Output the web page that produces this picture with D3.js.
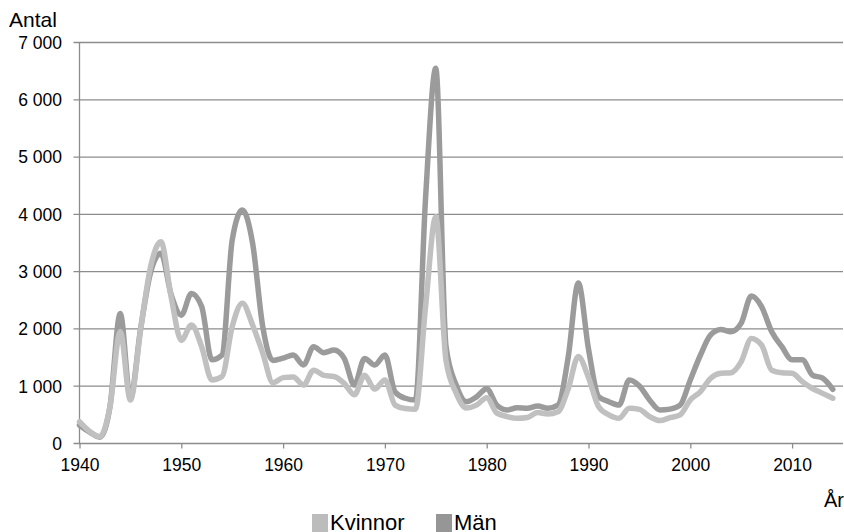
<!DOCTYPE html>
<html lang="sv">
  <head>
    <meta charset="UTF-8" />
    <title>Antal per år</title>
    <style>
      * {
        margin: 0;
        padding: 0;
      }
      body {
        background: #fff;
      }
      text {
        font-family: Arial, 'Liberation Sans', sans-serif;
        fill: #000;
      }
    </style>
  </head>
  <body>
    <script src="https://cdn.jsdelivr.net/npm/d3@7"></script>
    <script>
      const years = d3.range(1940, 2015)
      const kvinnor = [
        380, 210, 120, 650, 1950, 760, 1980, 3100, 3520, 2560,
        1800, 2070, 1690, 1110, 1170, 2040, 2450, 2070, 1580, 1060,
        1150, 1160, 1020, 1280, 1190, 1170, 1050, 850, 1190, 950,
        1110, 670, 610, 600, 2400, 3960, 1450, 880, 620, 670,
        800, 530, 470, 440, 455, 540, 515, 555, 950, 1520,
        1150, 640, 500, 440, 615, 595, 470, 400, 450, 500,
        760, 905, 1140, 1225, 1235, 1430, 1835, 1720, 1280, 1235,
        1225, 1080, 960, 875, 790
      ]
      const man = [
        320, 200, 110, 650, 2270, 800, 2000, 3000, 3320, 2600,
        2240, 2620, 2390, 1460, 1545, 3550, 4075, 3500, 2040, 1450,
        1490, 1545, 1370, 1690, 1585, 1630, 1485, 1020, 1485, 1370,
        1545, 900, 790, 760, 4300, 6550, 1700, 1020, 730, 815,
        955, 670, 585, 625, 615, 655, 615, 670, 1500, 2800,
        1650, 815, 730, 670, 1110, 1005, 760, 585, 600, 670,
        1110, 1545, 1895, 1990, 1950, 2100, 2575, 2390, 1950, 1690,
        1460, 1460, 1195, 1140, 945
      ]
      const xTicks = [1940, 1950, 1960, 1970, 1980, 1990, 2000, 2010]
      const yTicks = [0, 1000, 2000, 3000, 4000, 5000, 6000, 7000]
      const series = [
        { name: 'Män', values: man, color: '#9b9b9b', legend: '#969696' },
        { name: 'Kvinnor', values: kvinnor, color: '#c0c0c0', legend: '#bcbcbc' }
      ]
      const legendOrder = ['Kvinnor', 'Män']

      const W = 844
      const H = 532
      const plotLeft = 79.5
      const plotRight = 843
      const plotTop = 42.5
      const plotBottom = 443.5

      const svg = d3
        .select('body')
        .append('svg')
        .attr('width', W)
        .attr('height', H)

      const x = d3.scaleLinear().domain([1940, 2015]).range([plotLeft, plotRight])
      const y = d3.scaleLinear().domain([0, 7000]).range([plotBottom, plotTop])

      // rutnät
      svg
        .append('g')
        .selectAll('line')
        .data(yTicks)
        .join('line')
        .attr('x1', plotLeft - 6)
        .attr('x2', plotRight)
        .attr('y1', (d) => y(d))
        .attr('y2', (d) => y(d))
        .attr('stroke', '#8c8c8c')
        .attr('stroke-width', 1.3)

      // y-axel
      svg
        .append('line')
        .attr('x1', plotLeft)
        .attr('x2', plotLeft)
        .attr('y1', plotTop)
        .attr('y2', plotBottom)
        .attr('stroke', '#8c8c8c')
        .attr('stroke-width', 1.3)

      const fmt = (d) => d3.format(',')(d).replace(/,/g, ' ')
      svg
        .append('g')
        .selectAll('text')
        .data(yTicks)
        .join('text')
        .attr('x', 62)
        .attr('y', (d) => y(d))
        .attr('dy', '0.36em')
        .attr('text-anchor', 'end')
        .attr('font-size', 17.5)
        .text(fmt)

      // x-axel, tickmarkeringar
      const xAxis = d3
        .axisBottom(x)
        .tickValues(xTicks)
        .tickFormat(d3.format('d'))
        .tickSize(5)
        .tickPadding(10)
      const gx = svg
        .append('g')
        .attr('transform', `translate(0,${plotBottom})`)
        .call(xAxis)
      gx.select('.domain').remove()
      gx.selectAll('line').attr('stroke', '#8c8c8c').attr('stroke-width', 1.3)
      gx.selectAll('text')
        .attr('font-size', 17.5)
        .attr('font-family', 'Arial, Liberation Sans, sans-serif')
        .attr('fill', '#000')

      // utjämnade linjer
      const line = d3
        .line()
        .x((d, i) => x(years[i]))
        .y((d) => y(d))
        .curve(d3.curveMonotoneX)

      svg
        .append('g')
        .selectAll('path')
        .data(series)
        .join('path')
        .attr('d', (s) => line(s.values))
        .attr('fill', 'none')
        .attr('stroke', (s) => s.color)
        .attr('stroke-width', 5.5)
        .attr('stroke-linejoin', 'round')
        .attr('stroke-linecap', 'round')

      // axeltitlar
      svg.append('text').attr('x', 9).attr('y', 26.5).attr('font-size', 21).text('Antal')
      svg
        .append('text')
        .attr('x', 844)
        .attr('y', 507)
        .attr('text-anchor', 'end')
        .attr('font-size', 20)
        .text('År')

      // förklaring
      const legendX = [312, 436]
      const lg = svg
        .append('g')
        .selectAll('g')
        .data(legendOrder)
        .join('g')
        .attr('transform', (d, i) => `translate(${legendX[i]},514)`)
      lg.append('rect')
        .attr('width', 16)
        .attr('height', 18)
        .attr('fill', (d) => series.find((s) => s.name === d).legend)
      lg.append('text')
        .attr('x', 18)
        .attr('y', 16)
        .attr('font-size', 22)
        .text((d) => d)
    </script>
  </body>
</html>
